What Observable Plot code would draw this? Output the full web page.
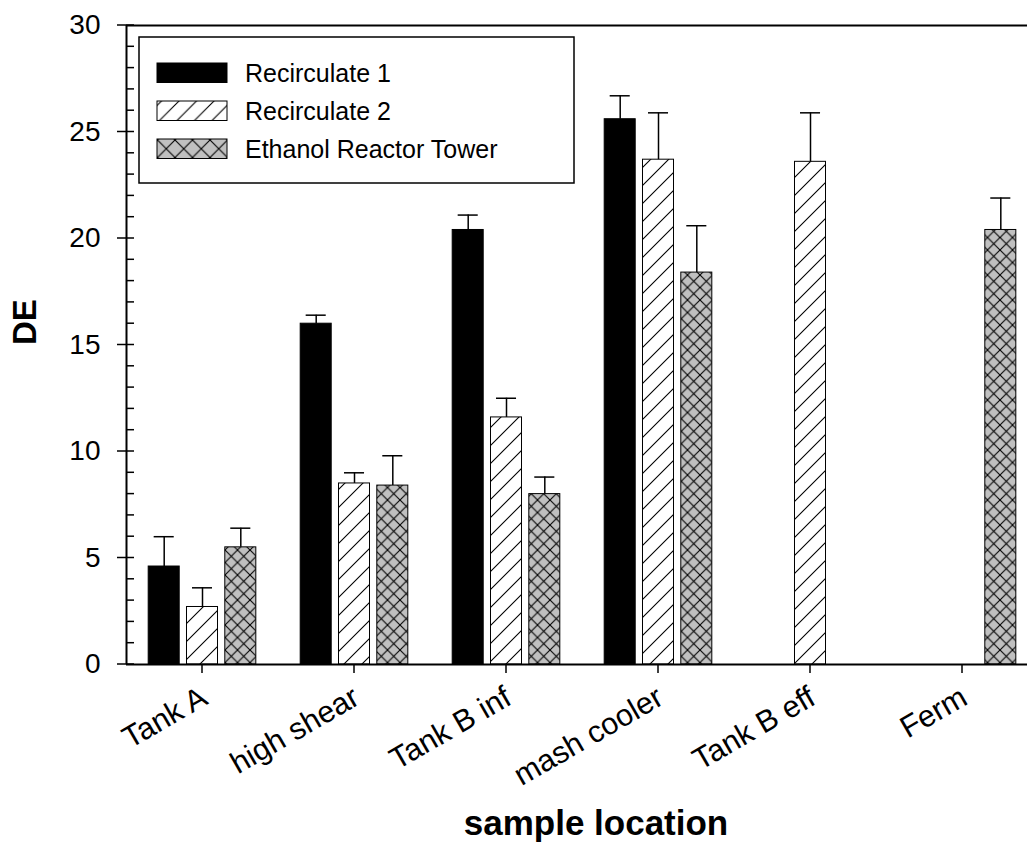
<!DOCTYPE html>
<html>
<head>
<meta charset="utf-8">
<script src="https://cdn.jsdelivr.net/npm/d3@7"></script>
<script src="https://cdn.jsdelivr.net/npm/@observablehq/plot@0.6"></script>
<style>
  body { margin: 0; background: #fff; }
  #chart { width: 1027px; height: 845px; }
</style>
</head>
<body>
<div id="chart"></div>
<script>
// Sample locations along the process line
const locations = ["Tank A", "high shear", "Tank B inf", "mash cooler", "Tank B eff", "Ferm"];
const seriesNames = ["Recirculate 1", "Recirculate 2", "Ethanol Reactor Tower"];

// Mean DE per location (null = not sampled) and the upper error bar length
const recirc1 = [4.6, 16.0, 20.4, 25.6, null, null];
const recirc1Err = [1.4, 0.4, 0.7, 1.1, null, null];
const recirc2 = [2.7, 8.5, 11.6, 23.7, 23.6, null];
const recirc2Err = [0.9, 0.5, 0.9, 2.2, 2.3, null];
const tower = [5.5, 8.4, 8.0, 18.4, null, 20.4];
const towerErr = [0.9, 1.4, 0.8, 2.2, null, 1.5];

const yTicks = [0, 5, 10, 15, 20, 25, 30];

const valueSets = [recirc1, recirc2, tower];
const errSets = [recirc1Err, recirc2Err, towerErr];

const rows = [];
locations.forEach((loc, i) => {
  seriesNames.forEach((s, k) => {
    const v = valueSets[k][i];
    if (v == null) return;
    rows.push({i, k, loc, series: s, value: v, err: errSets[k][i]});
  });
});

// Group layout in location-index units
const step = 0.252, barW = 0.204, capW = 0.066;
const center = d => d.i + (d.k - 1) * step;

const FONT = "'Liberation Sans', Arial, Helvetica, sans-serif";

// Fill patterns: diagonal hatch and gray cross-hatch (bars and legend sizes)
function patternDefs() {
  const defs = d3.create("svg:defs");
  function hatch(id, p) {
    const pat = defs.append("pattern").attr("id", id).attr("patternUnits", "userSpaceOnUse")
      .attr("width", p).attr("height", p);
    pat.append("rect").attr("width", p).attr("height", p).attr("fill", "white");
    pat.append("path").attr("d", `M-2,2 L2,-2 M0,${p} L${p},0 M${p - 2},${p + 2} L${p + 2},${p - 2}`)
      .attr("stroke", "black").attr("stroke-width", 1.1).attr("fill", "none");
  }
  function cross(id, p) {
    const pat = defs.append("pattern").attr("id", id).attr("patternUnits", "userSpaceOnUse")
      .attr("width", p).attr("height", p);
    pat.append("rect").attr("width", p).attr("height", p).attr("fill", "#c0c0c0");
    pat.append("path").attr("d", `M-2,-2 L${p + 2},${p + 2} M${p + 2},-2 L-2,${p + 2}`)
      .attr("stroke", "black").attr("stroke-width", 1.1).attr("fill", "none");
  }
  hatch("hatch", 18);
  cross("cross", 12.5);
  hatch("hatch-key", 17.5);
  cross("cross-key", 17.5);
  return defs.node();
}

// Axis ticks: major ticks cross the y axis, minor ticks point inward; x ticks point down
function axisTicks(index, scales, values, dims) {
  const g = d3.create("svg:g").attr("stroke", "black").attr("stroke-width", 1.5);
  const x0 = dims.marginLeft;
  for (const v of d3.range(0, 31)) {
    const y = scales.y(v);
    const major = v % 5 === 0;
    g.append("line").attr("x1", major ? x0 - 9 : x0).attr("x2", x0 + 8).attr("y1", y).attr("y2", y);
  }
  const yb = dims.height - dims.marginBottom;
  locations.forEach((loc, i) => {
    const x = scales.x(i);
    g.append("line").attr("x1", x).attr("x2", x).attr("y1", yb).attr("y2", yb + 9);
  });
  return g.node();
}

// Legend box in the upper left of the plot
function legend(index, scales, values, dims) {
  const g = d3.create("svg:g");
  g.append("rect").attr("x", 139).attr("y", 37).attr("width", 435).attr("height", 146)
    .attr("fill", "white").attr("stroke", "black").attr("stroke-width", 1.5);
  const fills = ["black", "url(#hatch-key)", "url(#cross-key)"];
  const ys = [63, 101, 139];
  seriesNames.forEach((name, k) => {
    g.append("rect").attr("x", 157).attr("y", ys[k]).attr("width", 70).attr("height", 19.5)
      .attr("fill", fills[k]).attr("stroke", "black").attr("stroke-width", 1);
    g.append("text").attr("x", 245).attr("y", ys[k] + 10).attr("dy", "0.35em")
      .attr("text-anchor", "start")
      .attr("font-family", FONT).attr("font-size", 25).attr("fill", "black").text(name);
  });
  return g.node();
}

const barFills = ["black", "url(#hatch)", "url(#cross)"];

const chart = Plot.plot({
  width: 1027,
  height: 845,
  marginLeft: 126,
  marginRight: 0,
  marginTop: 25,
  marginBottom: 181,
  x: {domain: [-0.5, 5.4276], axis: null},
  y: {domain: [0, 30], axis: null},
  style: {fontFamily: FONT, background: "white", color: "black", overflow: "visible"},
  marks: [
    patternDefs,
    ...[0, 1, 2].map(k => Plot.rect(rows.filter(d => d.k === k), {
      x1: d => center(d) - barW / 2,
      x2: d => center(d) + barW / 2,
      y1: 0,
      y2: "value",
      fill: barFills[k],
      stroke: "black",
      strokeWidth: 1
    })),
    // Upper error bars with caps
    Plot.ruleX(rows, {x: center, y1: "value", y2: d => d.value + d.err, stroke: "black", strokeWidth: 1.5}),
    Plot.ruleY(rows, {y: d => d.value + d.err, x1: d => center(d) - capW, x2: d => center(d) + capW, stroke: "black", strokeWidth: 1.5}),
    // Frame lines: left axis, bottom axis, top edge
    Plot.ruleX([-0.5], {stroke: "black", strokeWidth: 2}),
    Plot.ruleY([0], {stroke: "black", strokeWidth: 2}),
    Plot.ruleY([30], {stroke: "black", strokeWidth: 2}),
    axisTicks,
    // Y tick labels
    Plot.text(yTicks, {y: d => d, frameAnchor: "left", dx: -26, textAnchor: "end", fontSize: 28, fill: "black"}),
    // X tick labels, rotated
    Plot.text(locations, {x: (d, i) => i, frameAnchor: "bottom", rotate: -30, textAnchor: "end", lineAnchor: "top",
      dx: -4, dy: 20, fontSize: 30.5, fill: "black"}),
    // Axis titles
    Plot.text(["DE"], {frameAnchor: "left", dx: -101, rotate: -90, fontSize: 33, fontWeight: "bold", fill: "black"}),
    Plot.text(["sample location"], {frameAnchor: "bottom", dx: 19, dy: 170, fontSize: 35, fontWeight: "bold", fill: "black"}),
    legend
  ]
});

document.getElementById("chart").appendChild(chart);
</script>
</body>
</html>
